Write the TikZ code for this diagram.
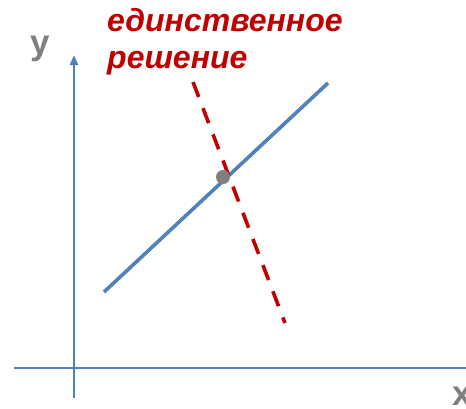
\documentclass[tikz,border=0pt]{standalone}
\usepackage{fontspec}
\setmainfont{Liberation Sans}
\usetikzlibrary{arrows.meta}
\definecolor{axblue}{HTML}{4F81BD}
\definecolor{dred}{HTML}{C00000}
\definecolor{dgray}{HTML}{7F7F7F}
\tikzset{
  axis/.style={draw=axblue, line width=2.2pt},
  mainline/.style={draw=axblue, line width=3.6pt},
  redline/.style={draw=dred, line width=3.6pt, dash pattern=on 16pt off 12pt},
  lbl/.style={font=\fontsize{32}{37}\selectfont\bfseries\itshape, text=dred, align=left, inner sep=0pt, anchor=north west},
  axlbl/.style={font=\fontsize{35}{37}\selectfont\bfseries, text=dgray, inner sep=0pt},
}
\begin{document}
\begin{tikzpicture}[x=1pt,y=-1pt]
\useasboundingbox (0,0) rectangle (466,408);
\coordinate (xl) at (14,368);
\coordinate (xr) at (466,368);
\coordinate (yb) at (74,398);
\coordinate (yt) at (74,55);
\draw[axis] (xl) -- (xr);
\draw[axis, -{Triangle[length=10pt,width=8pt]}] (yb) -- (yt);
\coordinate (b1) at (104,292);
\coordinate (b2) at (328,83);
\draw[mainline] (b1) -- (b2);
\coordinate (r1) at (193,82);
\coordinate (r2) at (285,323);
\draw[redline] (r1) -- (r2);
\node[circle, fill=dgray, minimum size=14pt, inner sep=0pt] (pt) at (223,177) {};
\node[lbl] (t) at (107,8) {единственное\\решение};
\node[axlbl] (ylab) at (40,49) {y};
\node[axlbl, anchor=west] (xlab) at (452,396) {x};
\end{tikzpicture}
\end{document}
